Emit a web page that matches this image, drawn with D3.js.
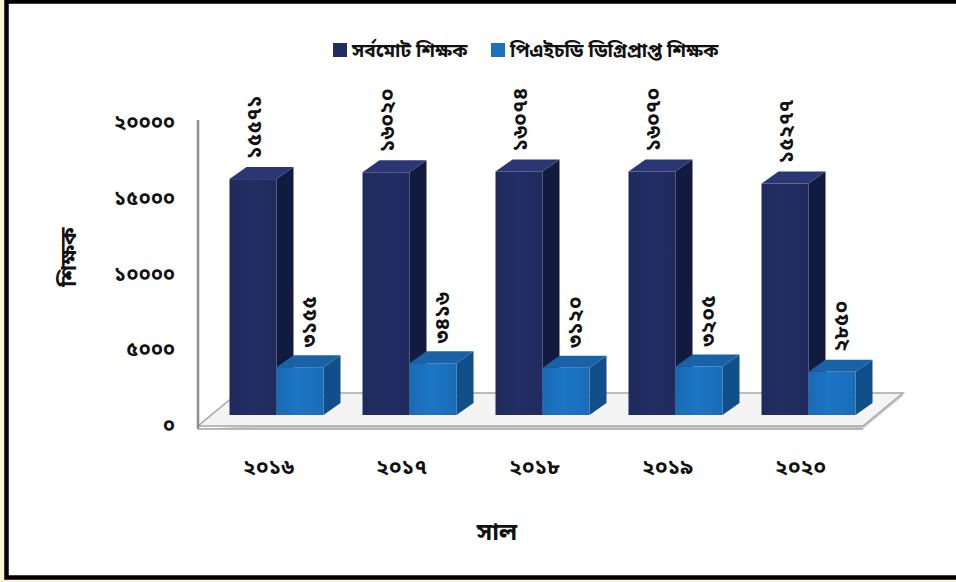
<!DOCTYPE html>
<html>
<head>
<meta charset="utf-8">
<script src="https://cdn.jsdelivr.net/npm/d3@7/dist/d3.min.js"></script>
<style>
  html, body { margin: 0; padding: 0; background: #fdf3d6; }
  svg { display: block; }
  text { font-family: "Noto Sans Bengali", "Noto Serif Bengali", "Lohit Bengali", "Noto Sans", sans-serif; fill: #111; }
</style>
</head>
<body>
<svg id="chart" width="956" height="582"></svg>
<script>
// Teachers per year: total and those holding a PhD
const years = ["2016", "2017", "2018", "2019", "2020"];
const yearLabels = ["২০১৬", "২০১৭", "২০১৮", "২০১৯", "২০২০"];
const totalTeachers = [15571, 16020, 16074, 16070, 15277];
const phdTeachers = [3155, 3416, 3120, 3205, 2850];
const seriesNames = ["সর্বমোট শিক্ষক", "পিএইচডি ডিগ্রিপ্রাপ্ত শিক্ষক"];
const yTicks = [0, 5000, 10000, 15000, 20000];

const bnDigits = "০১২৩৪৫৬৭৮৯";
const toBn = n => String(n).replace(/\d/g, d => bnDigits[+d]);

const svg = d3.select("#chart");

// Frame
svg.append("rect").attr("x", 6.5).attr("y", 1.5).attr("width", 960).attr("height", 576)
  .attr("fill", "#fff").attr("stroke", "#000").attr("stroke-width", 4.5);

const series = [
  { name: seriesNames[0], values: totalTeachers, front: "#212c60", side: "#121a3f", top: "#2b3775", labelDx: 1 },
  { name: seriesNames[1], values: phdTeachers, front: "#1b70bd", side: "#114f8a", top: "#1a62a8", labelDx: 9 }
];

// Scales
const y = d3.scaleLinear().domain([0, 20000]).range([425, 122]);
const x0 = d3.scaleBand().domain(years).range([198, 863]);
const groupW = 94;
const x1 = d3.scaleBand().domain([0, 1]).range([0, groupW]);

// 3D projection offsets
const floorD = { dx: 40, dy: 33 };
const barShift = { dx: 12, dy: 10 };
const barD = { dx: 17, dy: 12 };

// Floor slab
const fl = 198, fr = 863, fy = 426;
const g = svg.append("g");
g.append("polygon")
  .attr("points", [[fl, fy + 3], [fr, fy + 3], [fr + floorD.dx, fy - floorD.dy + 3], [fr + floorD.dx, fy - floorD.dy]].join(" "))
  .attr("fill", "#cfcfcf");
g.append("polygon")
  .attr("points", [[fl, fy], [fr, fy], [fr + floorD.dx, fy - floorD.dy], [fl + floorD.dx, fy - floorD.dy]].join(" "))
  .attr("fill", "#f4f4f4").attr("stroke", "#a6a6a6").attr("stroke-width", 1.5);
g.append("line").attr("x1", fl).attr("x2", fr).attr("y1", fy + 3).attr("y2", fy + 3)
  .attr("stroke", "#a6a6a6").attr("stroke-width", 1.5);

// Vertical axis line
g.append("line").attr("x1", 198).attr("x2", 198).attr("y1", 120).attr("y2", fy + 3)
  .attr("stroke", "#8f8f8f").attr("stroke-width", 2.5);

// Gradient for front faces
const defs = svg.append("defs");
series.forEach((s, i) => {
  const lg = defs.append("linearGradient").attr("id", "gf" + i).attr("x1", 0).attr("x2", 1);
  lg.append("stop").attr("offset", "0%").attr("stop-color", d3.color(s.front).darker(0.15));
  lg.append("stop").attr("offset", "45%").attr("stop-color", d3.color(s.front).brighter(0.12));
  lg.append("stop").attr("offset", "100%").attr("stop-color", d3.color(s.front).darker(0.1));
});

// Bars with side and top faces, plus rotated value labels
const bars = svg.append("g");
const labels = svg.append("g");
const baseY = y(0) - barShift.dy;
years.forEach((yr, yi) => {
  series.forEach((s, si) => {
    const v = s.values[yi];
    const bx = x0(yr) + (x0.bandwidth() - groupW) / 2 + barShift.dx + x1(si);
    const bw = x1.bandwidth();
    const ty = y(v) - barShift.dy;
    const bar = bars.append("g");
    bar.append("polygon")
      .attr("points", [[bx + bw, ty], [bx + bw + barD.dx, ty - barD.dy], [bx + bw + barD.dx, baseY - barD.dy], [bx + bw, baseY]].join(" "))
      .attr("fill", s.side);
    bar.append("polygon")
      .attr("points", [[bx, ty], [bx + bw, ty], [bx + bw + barD.dx, ty - barD.dy], [bx + barD.dx, ty - barD.dy]].join(" "))
      .attr("fill", s.top);
    bar.append("rect").attr("x", bx).attr("y", ty).attr("width", bw).attr("height", baseY - ty)
      .attr("fill", `url(#gf${si})`);
    const lx = bx + bw / 2 + s.labelDx;
    const ly = ty - barD.dy - 8;
    labels.append("text")
      .attr("transform", `translate(${lx},${ly}) rotate(-90)`)
      .attr("dy", "0.35em")
      .attr("font-size", 21).attr("font-weight", "bold")
      .text(toBn(v));
  });
});

// Y tick labels
svg.append("g").selectAll("text").data(yTicks).join("text")
  .attr("x", 175).attr("y", d => y(d)).attr("dy", "0.35em")
  .attr("text-anchor", "end").attr("font-size", 20).attr("font-weight", "bold")
  .text(d => toBn(d));

// X category labels
svg.append("g").selectAll("text").data(years).join("text")
  .attr("x", (d, i) => x0(d) + x0.bandwidth() / 2 + 4).attr("y", 467).attr("dy", "0.35em")
  .attr("text-anchor", "middle").attr("font-size", 21).attr("font-weight", "bold")
  .text((d, i) => yearLabels[i]);

// Axis titles
svg.append("text").attr("transform", "translate(68,257) rotate(-90)").attr("dy", "0.35em")
  .attr("text-anchor", "middle").attr("font-size", 22).attr("font-weight", "bold").text("শিক্ষক");
svg.append("text").attr("x", 497).attr("y", 532).attr("dy", "0.35em")
  .attr("text-anchor", "middle").attr("font-size", 24).attr("font-weight", "bold").text("সাল");

// Legend
const legend = svg.append("g");
const legendX = [333, 491];
series.forEach((s, i) => {
  legend.append("rect").attr("x", legendX[i]).attr("y", 43).attr("width", 14).attr("height", 14).attr("fill", s.front);
  legend.append("text").attr("x", legendX[i] + 19).attr("y", 50).attr("dy", "0.35em")
    .attr("font-size", 19).attr("font-weight", "bold").text(s.name);
});
</script>
</body>
</html>
